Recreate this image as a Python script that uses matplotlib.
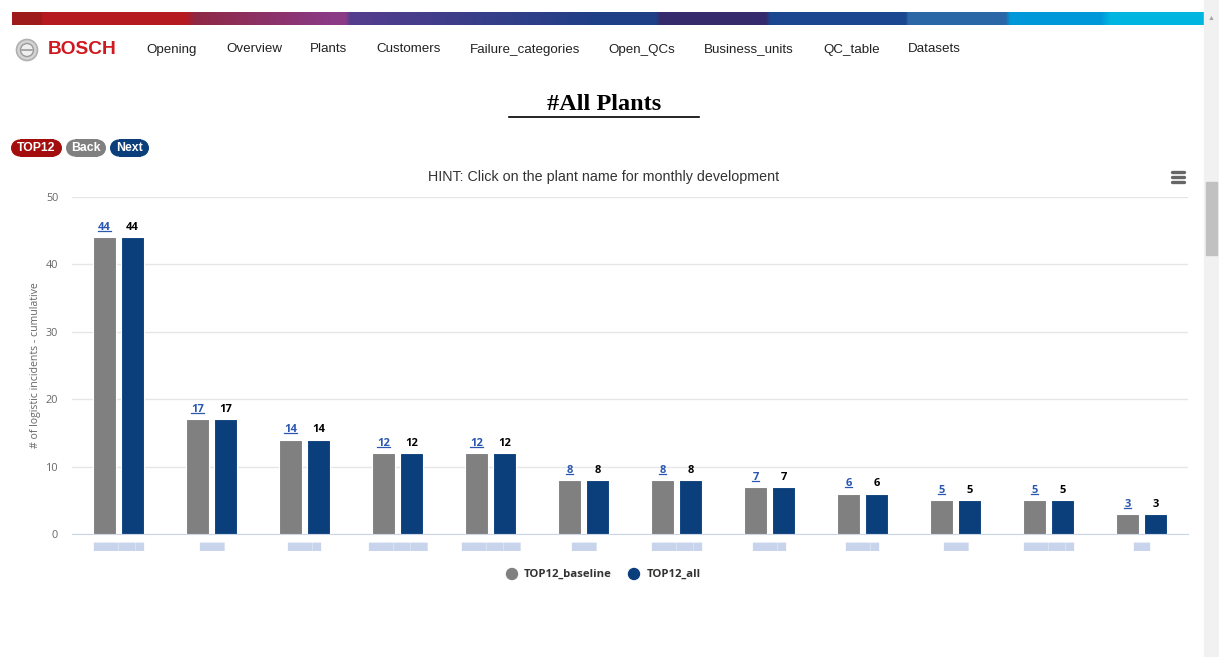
import numpy as np
import matplotlib
matplotlib.use("Agg")
import matplotlib.pyplot as plt
from matplotlib.patches import Rectangle, Ellipse
from matplotlib.colors import to_rgb

W, H = 1219, 657
plt.rcParams['font.family'] = ['Liberation Sans', 'DejaVu Sans']

# data
plants = ["▆▆▆▆▆▆", "▆▆▆", "▆▆▆▆", "▆▆▆▆▆▆▆", "▆▆▆▆▆▆▆", "▆▆▆",
          "▆▆▆▆▆▆", "▆▆▆▆", "▆▆▆▆", "▆▆▆", "▆▆▆▆▆▆", "▆▆"]
baseline = [44, 17, 14, 12, 12, 8, 8, 7, 6, 5, 5, 3]
all_vals = [44, 17, 14, 12, 12, 8, 8, 7, 6, 5, 5, 3]
nav_items = ["Opening", "Overview", "Plants", "Customers", "Failure_categories",
             "Open_QCs", "Business_units", "QC_table", "Datasets"]
nav_x = [146, 226, 310, 376, 470, 608, 704, 823, 908]
yticks = [0, 10, 20, 30, 40, 50]

c_gray = "#808080"
c_blue = "#0b3f7c"
chart_font = ["Open Sans", "DejaVu Sans"]


def fx(x):
    return x / W


def fy(y):
    return 1 - y / H


def dot(x, y, r, **kw):
    e = Ellipse((fx(x), fy(y)), 2 * r / W, 2 * r / H, transform=fig.transFigure, **kw)
    fig.patches.append(e)


fig = plt.figure(figsize=(W / 100, H / 100), dpi=100)

# top colour band
stops = [(12, "#9e1b1b"), (41, "#9e1b1b"), (42, "#b51a20"), (185, "#b51a20"),
         (195, "#8f2845"), (330, "#8b3a86"), (345, "#8b3a86"), (350, "#553d8d"),
         (600, "#1e3f86"), (655, "#1e3f86"), (660, "#352a6b"), (765, "#352a6b"),
         (770, "#1b4690"), (905, "#1b4690"), (908, "#2b67a6"), (1005, "#2b67a6"),
         (1010, "#0098d8"), (1100, "#0098d8"), (1110, "#00b5e0"), (1204, "#00b5e0")]
xs = np.arange(12, 1204)
sx = [s[0] for s in stops]
cols = np.array([to_rgb(s[1]) for s in stops])
band = np.stack([np.interp(xs, sx, cols[:, k]) for k in range(3)], axis=-1)[None, :, :]
bax = fig.add_axes([fx(12), fy(25), fx(1204 - 12), 13 / H])
bax.imshow(band, aspect="auto")
bax.axis("off")

# scrollbar
fig.patches.append(Rectangle((fx(1204), 0), fx(15), 1, transform=fig.transFigure,
                             color="#f1f1f1", zorder=0))
fig.patches.append(Rectangle((fx(1206), fy(255)), fx(11), 73 / H, transform=fig.transFigure,
                             color="#c1c1c1", zorder=1))
fig.text(fx(1211.5), fy(18), "▲", fontsize=5, color="#a3a3a3", ha="center", va="center")

# logo + nav
dot(27, 50, 10.5, facecolor="#d4d4d4", edgecolor="#b0b0b0", lw=1.2)
dot(27, 50, 6.5, facecolor="#efefef", edgecolor="#9a9a9a", lw=1.0)
fig.lines.append(plt.Line2D([fx(22), fx(32)], [fy(50), fy(50)], transform=fig.transFigure,
                            color="#9a9a9a", lw=1.2))
fig.text(fx(48), fy(50), "BOSCH", fontsize=13.8, fontweight="bold", color="#d0181f",
         va="center", ha="left")
for name, x in zip(nav_items, nav_x):
    fig.text(fx(x), fy(52.5), name, fontsize=9.6, color="#222222", va="baseline", ha="left")

# page title
fig.text(fx(604), fy(104), "#All Plants", fontsize=17.5, fontweight="bold",
         family="Liberation Serif", ha="center", va="center", color="#000000")
fig.lines.append(plt.Line2D([fx(509), fx(699)], [fy(117), fy(117)],
                            transform=fig.transFigure, color="black", lw=1.2))

# buttons (pill shapes)
rb = 8.5
for label, x0, x1, c in [("TOP12", 11, 62, "#a30d0d"), ("Back", 66, 106, "#808080"),
                         ("Next", 110, 149, "#0b3f7c")]:
    fig.patches.append(Rectangle((fx(x0 + rb), fy(148 + rb)), fx(x1 - x0 - 2 * rb),
                                 2 * rb / H, transform=fig.transFigure,
                                 facecolor=c, edgecolor="none"))
    dot(x0 + rb, 148, rb, facecolor=c, edgecolor="none")
    dot(x1 - rb, 148, rb, facecolor=c, edgecolor="none")
    fig.text(fx((x0 + x1) / 2), fy(148), label, fontsize=8.8, fontweight="bold",
             color="white", ha="center", va="center")

# hint title and menu icon
fig.text(fx(604), fy(177), "HINT: Click on the plant name for monthly development",
         fontsize=10.3, color="#333333", ha="center", va="center")
for yy in (172, 177, 182):
    fig.lines.append(plt.Line2D([fx(1172), fx(1184)], [fy(yy), fy(yy)],
                                transform=fig.transFigure, color="#666666", lw=2.4,
                                solid_capstyle="round"))

# chart
ax = fig.add_axes([fx(72), fy(534), fx(1188 - 72), (534 - 197) / H])
x = np.arange(len(plants))
wd = 0.255
ax.bar(x - 0.15, baseline, wd, color=c_gray, edgecolor="white", lw=0.8, zorder=3)
ax.bar(x + 0.15, all_vals, wd, color=c_blue, edgecolor="white", lw=0.8, zorder=3)

ax.set_ylim(0, 50)
ax.set_xlim(-0.5, len(plants) - 0.5)
ax.set_yticks(yticks)
ax.yaxis.grid(True, color="#e6e6e6", lw=1)
ax.set_axisbelow(True)
for s in ["top", "right", "left"]:
    ax.spines[s].set_visible(False)
ax.spines["bottom"].set_color("#ccd6eb")
ax.tick_params(axis="y", length=0, labelsize=7.8, labelcolor="#666666", pad=10)
ax.tick_params(axis="x", length=0, pad=5)
for lb in ax.get_yticklabels():
    lb.set_family(chart_font)
ax.set_xticks(x)
ax.set_xticklabels(plants, fontsize=8, color="#b6c5e6", alpha=0.75)
ax.set_ylabel("# of logistic incidents - cumulative", fontsize=7.6, color="#666666",
              labelpad=3, family=chart_font)

lab1 = []
for xi, v in zip(x, baseline):
    t = ax.annotate(str(v), (xi - 0.15, v), xytext=(0, 3), textcoords="offset points",
                    ha="center", va="bottom", fontsize=8, fontweight="bold", color="#2a57b0",
                    family=chart_font)
    lab1.append(t)
for xi, v in zip(x, all_vals):
    ax.annotate(str(v), (xi + 0.15, v), xytext=(0, 3), textcoords="offset points",
                ha="center", va="bottom", fontsize=8, fontweight="bold", color="#000000",
                family=chart_font)

# legend
dot(512, 574, 5.5, color=c_gray)
fig.text(fx(524), fy(574), "TOP12_baseline", fontsize=8.2, fontweight="bold",
         color="#333333", va="center", ha="left", family=chart_font)
dot(634, 574, 5.5, color=c_blue)
fig.text(fx(647), fy(574), "TOP12_all", fontsize=8.2, fontweight="bold",
         color="#333333", va="center", ha="left", family=chart_font)

# underline the clickable labels
fig.canvas.draw()
r = fig.canvas.get_renderer()
inv = fig.transFigure.inverted()
for t in lab1:
    bb = t.get_window_extent(r)
    (a0, b0), (a1, _) = inv.transform([(bb.x0, bb.y0 + 2), (bb.x1, bb.y0 + 2)])
    fig.lines.append(plt.Line2D([a0, a1], [b0, b0], transform=fig.transFigure,
                                color="#2a57b0", lw=0.9))

fig.savefig("out.png", dpi=100)
